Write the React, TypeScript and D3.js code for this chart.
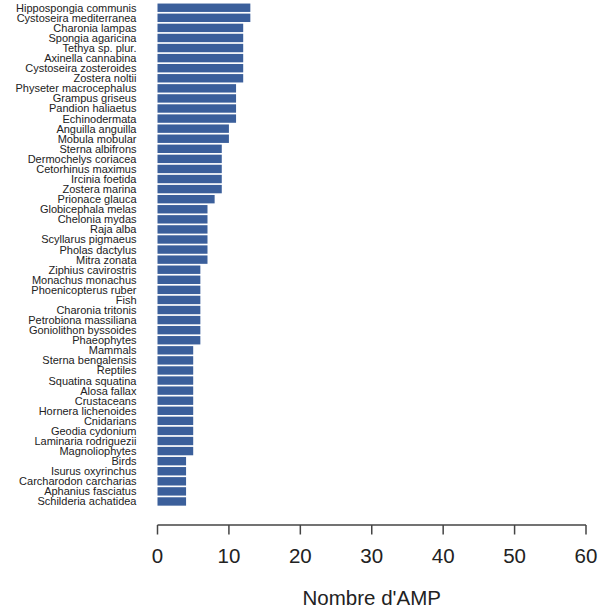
import React from "react";
import * as d3 from "d3";

const species: string[] = [
  "Hippospongia communis",
  "Cystoseira mediterranea",
  "Charonia lampas",
  "Spongia agaricina",
  "Tethya sp. plur.",
  "Axinella cannabina",
  "Cystoseira zosteroides",
  "Zostera noltii",
  "Physeter macrocephalus",
  "Grampus griseus",
  "Pandion haliaetus",
  "Echinodermata",
  "Anguilla anguilla",
  "Mobula mobular",
  "Sterna albifrons",
  "Dermochelys coriacea",
  "Cetorhinus maximus",
  "Ircinia foetida",
  "Zostera marina",
  "Prionace glauca",
  "Globicephala melas",
  "Chelonia mydas",
  "Raja alba",
  "Scyllarus pigmaeus",
  "Pholas dactylus",
  "Mitra zonata",
  "Ziphius cavirostris",
  "Monachus monachus",
  "Phoenicopterus ruber",
  "Fish",
  "Charonia tritonis",
  "Petrobiona massiliana",
  "Goniolithon byssoides",
  "Phaeophytes",
  "Mammals",
  "Sterna bengalensis",
  "Reptiles",
  "Squatina squatina",
  "Alosa fallax",
  "Crustaceans",
  "Hornera lichenoides",
  "Cnidarians",
  "Geodia cydonium",
  "Laminaria rodriguezii",
  "Magnoliophytes",
  "Birds",
  "Isurus oxyrinchus",
  "Carcharodon carcharias",
  "Aphanius fasciatus",
  "Schilderia achatidea",
];

const counts: number[] = [
  13, 13, 12, 12, 12, 12, 12, 12, 11, 11, 11, 11, 10, 10, 9, 9, 9, 9, 9, 8,
  7, 7, 7, 7, 7, 7, 6, 6, 6, 6, 6, 6, 6, 6, 5, 5, 5, 5, 5, 5, 5, 5, 5, 5, 5,
  4, 4, 4, 4, 4,
];

const xTicks: number[] = [0, 10, 20, 30, 40, 50, 60];
const xTitle = "Nombre d'AMP";

export default function App() {
  const W = 614;
  const H = 611;
  const x = d3.scaleLinear().domain([0, 60]).range([157.5, 586]);
  const y = d3
    .scaleBand<string>()
    .domain(species)
    .range([2.7, 506.5])
    .paddingInner(1 / 6)
    .paddingOuter(1 / 12);
  const axisY = 525;
  const font = "'Liberation Sans', Arial, Helvetica, sans-serif";
  return (
    <div style={{ position: "absolute", left: 0, top: 0 }}>
      <svg width={W} height={H} style={{ display: "block", background: "#fff" }}>
        <g>
          {species.map((s, i) => (
            <rect
              key={s}
              x={x(0)}
              y={y(s)}
              width={x(counts[i]) - x(0)}
              height={y.bandwidth()}
              fill="#3b5f9b"
            />
          ))}
        </g>
        <g fontFamily={font} fontSize={11} fill="#222">
          {species.map((s) => (
            <text
              key={s}
              x={136.5}
              y={(y(s) as number) + y.bandwidth() / 2}
              textAnchor="end"
              dominantBaseline="central"
            >
              {s}
            </text>
          ))}
        </g>
        <g stroke="#444" strokeWidth={1.5} fill="none">
          <line x1={x(0)} x2={x(60)} y1={axisY} y2={axisY} />
          {xTicks.map((t) => (
            <line key={t} x1={x(t)} x2={x(t)} y1={axisY} y2={axisY + 9.5} />
          ))}
        </g>
        <g fontFamily={font} fontSize={20.5} fill="#222" textAnchor="middle">
          {xTicks.map((t) => (
            <text key={t} x={x(t)} y={555} dominantBaseline="central">
              {t}
            </text>
          ))}
          <text x={(x(0) + x(60)) / 2} y={597} dominantBaseline="central">
            {xTitle}
          </text>
        </g>
      </svg>
    </div>
  );
}
